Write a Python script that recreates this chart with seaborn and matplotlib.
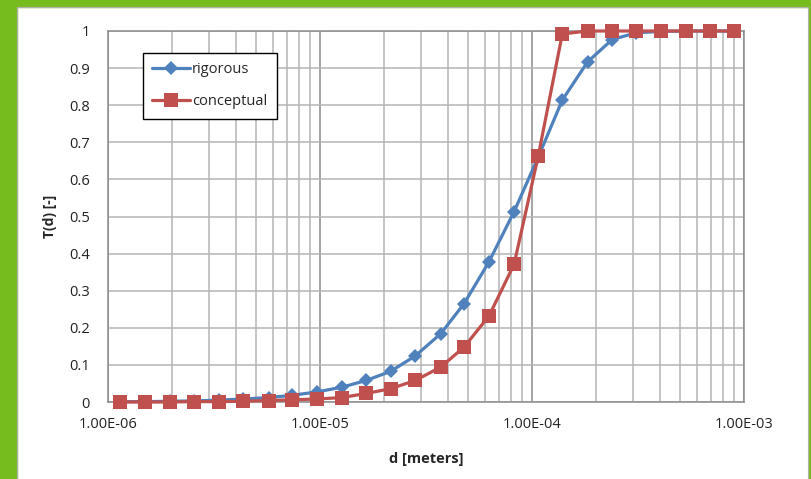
import matplotlib
matplotlib.use('Agg')
import matplotlib.pyplot as plt
import matplotlib.ticker as mticker
import matplotlib.patches as mpatches
import pandas as pd
import seaborn as sns

# grain size d [m]
d = [1.14e-6, 1.50e-6, 1.97e-6, 2.55e-6, 3.33e-6, 4.33e-6, 5.73e-6, 7.38e-6,
     9.65e-6, 1.27e-5, 1.65e-5, 2.16e-5, 2.81e-5, 3.71e-5, 4.78e-5, 6.27e-5,
     8.23e-5, 1.07e-4, 1.39e-4, 1.83e-4, 2.39e-4, 3.09e-4, 4.05e-4, 5.31e-4,
     6.94e-4, 9.01e-4]
rigorous = [0.001, 0.001, 0.002, 0.003, 0.005, 0.008, 0.012, 0.018, 0.027,
            0.040, 0.058, 0.083, 0.124, 0.184, 0.265, 0.378, 0.513, 0.660,
            0.814, 0.917, 0.977, 0.995, 0.999, 1.0, 1.0, 1.0]
conceptual = [0.0, 0.0, 0.0, 0.001, 0.001, 0.002, 0.004, 0.006, 0.008, 0.012,
              0.023, 0.036, 0.058, 0.094, 0.148, 0.232, 0.371, 0.663, 0.992,
              1.0, 1.0, 1.0, 1.0, 1.0, 1.0, 1.0]
xticks = [1e-6, 1e-5, 1e-4, 1e-3]
yticks = [0, 0.1, 0.2, 0.3, 0.4, 0.5, 0.6, 0.7, 0.8, 0.9, 1.0]

df = pd.DataFrame({'d': d, 'rigorous': rigorous, 'conceptual': conceptual})

sns.set_style('white')
plt.rcParams['font.family'] = ['Open Sans', 'DejaVu Sans']

fig = plt.figure(figsize=(8.12, 4.79), dpi=100)
fig.patch.set_facecolor('white')

# green frame around the chart, excel style
green = '#77BC1F'
fig.add_artist(mpatches.Rectangle((0, 0), 17 / 812, 1, transform=fig.transFigure,
                                  color=green, zorder=0))
fig.add_artist(mpatches.Rectangle((0, 1 - 7 / 479), 1, 7 / 479, transform=fig.transFigure,
                                  color=green, zorder=0))
fig.add_artist(mpatches.Rectangle((1 - 3 / 812, 0), 3 / 812, 1, transform=fig.transFigure,
                                  color=green, zorder=0))
fig.add_artist(mpatches.Rectangle((17 / 812, -0.01), 1 - 20.5 / 812, 1 - 6.5 / 479 + 0.01,
                                  transform=fig.transFigure, facecolor='none',
                                  edgecolor='#b0b0b0', lw=0.8, zorder=1))

ax = fig.add_axes([108 / 812, 1 - 402 / 479, 636 / 812, 371 / 479])

sns.lineplot(data=df, x='d', y='rigorous', ax=ax, color='#4F81BD', lw=2.3,
             marker='D', markersize=7.5, markeredgewidth=0, label='rigorous',
             clip_on=False, zorder=4)
sns.lineplot(data=df, x='d', y='conceptual', ax=ax, color='#C0504D', lw=2.3,
             marker='s', markersize=9.5, markeredgewidth=0, label='conceptual',
             clip_on=False, zorder=5)

ax.set_xscale('log')
ax.set_xlim(1e-6, 1e-3)
ax.set_ylim(0, 1)
ax.set_xticks(xticks)
ax.xaxis.set_major_formatter(mticker.FuncFormatter(lambda v, p: '%.2E' % v))
ax.xaxis.set_minor_locator(mticker.LogLocator(base=10, subs=range(2, 10)))
ax.xaxis.set_minor_formatter(mticker.NullFormatter())
ax.set_yticks(yticks)
ax.yaxis.set_major_formatter(mticker.FuncFormatter(lambda v, p: '%g' % round(v, 1)))

ax.grid(which='major', axis='y', color='#b4b4b4', lw=1.1)
ax.grid(which='minor', axis='x', color='#b4b4b4', lw=1.1)
ax.grid(which='major', axis='x', color='#8c8c8c', lw=1.1)
ax.set_axisbelow(True)

for s in ax.spines.values():
    s.set_color('#8c8c8c')
    s.set_linewidth(1.1)

ax.tick_params(axis='both', which='major', direction='out', length=5, width=1,
               color='#8c8c8c', labelsize=10.5, labelcolor='#222222')
ax.tick_params(axis='x', which='major', pad=6)
ax.tick_params(axis='y', which='major', pad=8)
ax.tick_params(axis='x', which='minor', length=0)

ax.set_xlabel('d [meters]', fontsize=10.5, fontweight='bold', labelpad=14)
ax.set_ylabel('T(d) [-]', fontsize=10, fontweight='bold', labelpad=9)

leg = ax.legend(loc='upper left', bbox_to_anchor=(0.055, 0.941), fontsize=10.5,
                frameon=True, fancybox=False, borderpad=0.65, labelspacing=1.15,
                handlelength=2.6, handletextpad=0.1, borderaxespad=0)
leg.get_frame().set_edgecolor('black')
leg.get_frame().set_linewidth(1.0)
leg.get_frame().set_alpha(1)

fig.savefig('out.png', dpi=100)
